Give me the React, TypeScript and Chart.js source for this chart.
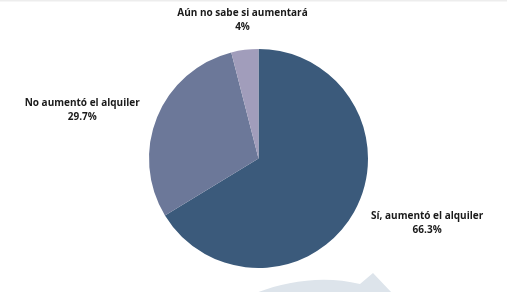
import React, { useEffect, useRef } from "react";
import { Chart, registerables } from "chart.js";

Chart.register(...registerables);

const categories = ["Sí, aumentó el alquiler", "No aumentó el alquiler", "Aún no sabe si aumentará"];
const values = [66.3, 29.7, 4];
const valueLabels = ["66.3%", "29.7%", "4%"];
const colors = ["#3b5a7b", "#6c7899", "#a19dbb"];

// label anchor factors relative to pie center, in units of radius
const labelAnchors = [
  { fx: 1.54, fy: 0.59 },
  { fx: -1.61, fy: -0.44 },
  { fx: -0.146, fy: -1.26 },
];

const decorPlugin = {
  id: "decor",
  beforeDraw(chart: any) {
    const ctx = chart.ctx;
    ctx.save();
    ctx.fillStyle = "#ededed";
    ctx.fillRect(0, 0, chart.width, 1.5);
    ctx.fillStyle = "#dde4eb";
    ctx.beginPath();
    ctx.moveTo(256, 293);
    ctx.bezierCurveTo(285, 281, 325, 275, 360, 284);
    ctx.lineTo(373, 273);
    ctx.lineTo(392, 293);
    ctx.closePath();
    ctx.fill();
    ctx.restore();
  },
};

const labelPlugin = {
  id: "pieLabels",
  afterDraw(chart: any) {
    const ctx = chart.ctx;
    const meta = chart.getDatasetMeta(0);
    ctx.save();
    ctx.fillStyle = "#1a1a1a";
    ctx.font = "bold 10px 'Open Sans'";
    ctx.textAlign = "center";
    ctx.textBaseline = "middle";
    meta.data.forEach((arc: any, i: number) => {
      const { x, y, outerRadius } = arc.getProps(["x", "y", "outerRadius"], true);
      const a = labelAnchors[i];
      const lx = x + a.fx * outerRadius;
      const ly = y + a.fy * outerRadius;
      ctx.fillText(categories[i], lx, ly - 7);
      ctx.fillText(valueLabels[i], lx, ly + 7);
    });
    ctx.restore();
  },
};

export default function App() {
  const ref = useRef<HTMLCanvasElement | null>(null);
  useEffect(() => {
    document.body.style.margin = "0";
    const chart = new Chart(ref.current as HTMLCanvasElement, {
      type: "pie",
      data: {
        labels: categories,
        datasets: [
          {
            data: values,
            backgroundColor: colors,
            borderWidth: 0,
          },
        ],
      },
      options: {
        animation: false,
        responsive: false,
        maintainAspectRatio: false,
        layout: { padding: { top: 49, bottom: 24, left: 149, right: 139 } },
        plugins: { legend: { display: false }, tooltip: { enabled: false } },
      },
      plugins: [decorPlugin, labelPlugin],
    });
    return () => chart.destroy();
  }, []);
  return (
    <div style={{ width: 507, height: 292, background: "#fff" }}>
      <canvas ref={ref} width={507} height={292} />
    </div>
  );
}
